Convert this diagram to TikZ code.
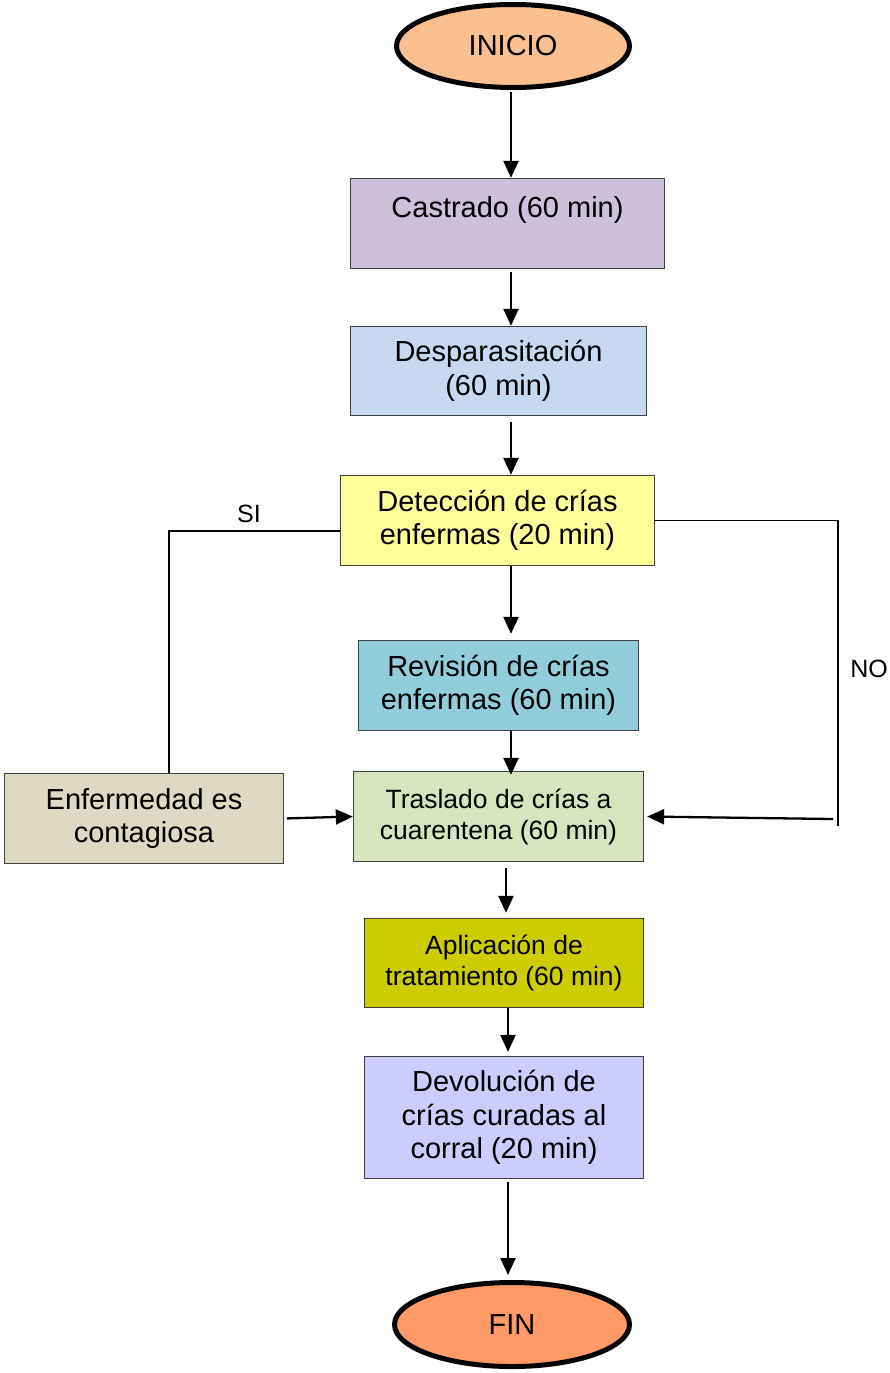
\documentclass[tikz,border=0pt]{standalone}
\usepackage{fontspec}
\setmainfont{Liberation Sans}
\usetikzlibrary{shapes.geometric,arrows.meta,calc}
\definecolor{cIni}{HTML}{FAC090}
\definecolor{cFin}{HTML}{FF9966}
\definecolor{cCast}{HTML}{CCC0DA}
\definecolor{cDesp}{HTML}{C6D9F1}
\definecolor{cDet}{HTML}{FFFF99}
\definecolor{cRev}{HTML}{92CDDC}
\definecolor{cTras}{HTML}{D7E4BD}
\definecolor{cEnf}{HTML}{DDD9C3}
\definecolor{cApl}{HTML}{CCCC00}
\definecolor{cDev}{HTML}{CCCCFF}
\definecolor{boxgray}{HTML}{404040}
\begin{document}
\begin{tikzpicture}[x=1pt,y=-1pt,
  box/.style={draw=boxgray,line width=1.3pt,rectangle,inner sep=0pt,align=center,
    font=\fontsize{29}{33.5}\selectfont},
  smallbox/.style={box,font=\fontsize{26.5}{31}\selectfont},
  term/.style={ellipse,draw=black,line width=5pt,inner sep=0pt,
    font=\fontsize{29}{33.5}\selectfont},
  arr/.style={line width=2.3pt,-{Triangle[length=17pt,width=15pt]}},
  conn/.style={line width=1.8pt},
  lbl/.style={font=\fontsize{25}{30}\selectfont}
]
\useasboundingbox (0,0) rectangle (890,1373);

% nodes
\node[term,fill=cIni,minimum width=233pt,minimum height=83pt] (ini) at (513,46) {INICIO};
\node[box,fill=cCast,minimum width=314pt,minimum height=90pt] (cast) at (507.5,223.5) {Castrado (60 min)\\ \mbox{}};
\node[box,fill=cDesp,minimum width=296pt,minimum height=89pt] (desp) at (498.5,371) {Desparasitación\\(60 min)};
\node[box,fill=cDet,minimum width=314pt,minimum height=90pt] (det) at (497.5,520.5) {Detección de crías\\enfermas (20 min)};
\node[box,fill=cRev,minimum width=280pt,minimum height=90pt] (rev) at (498.5,685.5) {Revisión de crías\\enfermas (60 min)};
\node[smallbox,fill=cTras,minimum width=290pt,minimum height=90pt] (tras) at (498.5,816.5) {Traslado de crías a\\cuarentena (60 min)};
\node[box,fill=cEnf,minimum width=279pt,minimum height=90pt] (enf) at (144,818.5) {Enfermedad es\\contagiosa};
\node[smallbox,fill=cApl,minimum width=279pt,minimum height=89pt] (apl) at (504,963) {Aplicación de\\tratamiento (60 min)};
\node[box,fill=cDev,minimum width=279pt,minimum height=122pt] (dev) at (504,1117.5) {Devolución de\\crías curadas al\\corral (20 min)};
\node[term,fill=cFin,minimum width=235pt,minimum height=84pt] (fin) at (512,1324.5) {FIN};

\node[lbl] (si) at (249,514) {SI};
\node[lbl] (no) at (869,669) {NO};

% arrow columns
\coordinate (c1) at (511,0);
\coordinate (c2) at (506,0);
\coordinate (c3) at (508,0);

\draw[arr,shorten <=2pt] (c1 |- ini.south) -- (c1 |- cast.north);
\draw[arr,shorten <=3pt] (c1 |- cast.south) -- (c1 |- desp.north);
\draw[arr,shorten <=6pt] (c1 |- desp.south) -- (c1 |- det.north);
\draw[arr,shorten >=6pt] (c1 |- det.south) -- (c1 |- rev.north);
\draw[arr,shorten >=-4pt] (c1 |- rev.south) -- (c1 |- tras.north);
\draw[arr,shorten <=6pt,shorten >=5pt] (c2 |- tras.south) -- (c2 |- apl.north);
\draw[arr,shorten >=4pt] (c3 |- apl.south) -- (c3 |- dev.north);
\draw[arr,shorten <=3pt,shorten >=5pt] (c3 |- dev.south) -- (c3 |- fin.north);

% SI branch
\draw[conn] ([yshift=-10.5pt]det.west) -| ([xshift=25pt]enf.north);
\draw[arr,shorten <=3pt] (enf.east) -- (tras.west);

% NO branch
\coordinate (noC) at (838,819);
\draw[conn,line width=1.4pt] (det.east) -| (noC) -- ++(0,7);
\draw[arr,shorten >=3pt] ([xshift=-5pt]noC) -- (tras.east);
\end{tikzpicture}
\end{document}
